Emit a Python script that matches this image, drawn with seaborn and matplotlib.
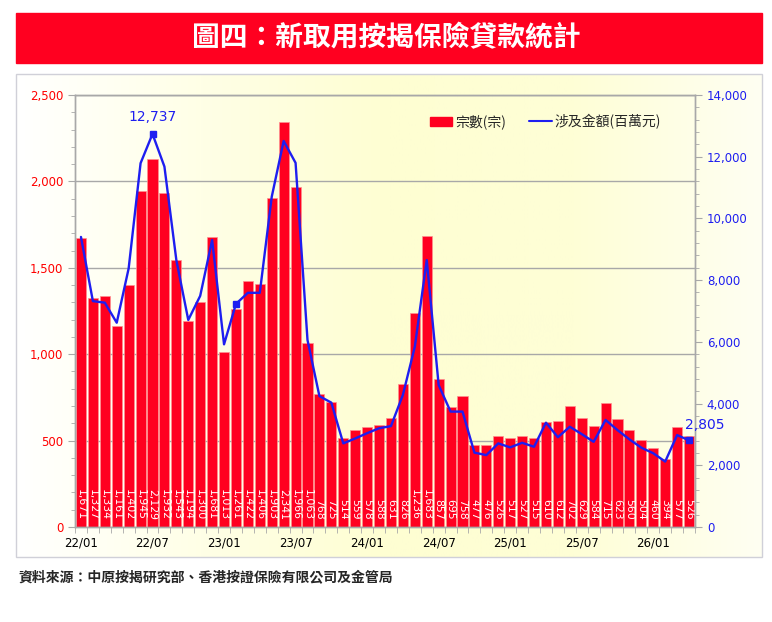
import numpy as np
import pandas as pd
import matplotlib
matplotlib.use('Agg')
import matplotlib.pyplot as plt
import seaborn as sns
from matplotlib.patches import Rectangle, Patch
from matplotlib.lines import Line2D
from matplotlib.colors import LinearSegmentedColormap
from matplotlib.ticker import MultipleLocator, FuncFormatter, FixedLocator

sns.set_style('white')
plt.rcParams['font.family'] = ['DejaVu Sans', 'Noto Sans CJK TC']
CJK = ['Noto Sans CJK TC', 'DejaVu Sans']

# data: monthly new mortgage insurance loans, 22/01 - 26/04
months = pd.date_range('2022-01-01', periods=52, freq='MS').strftime('%y/%m').tolist()
counts = [1671, 1327, 1334, 1161, 1402, 1945, 2129, 1932, 1543, 1194, 1300, 1681,
          1013, 1261, 1422, 1406, 1903, 2341, 1966, 1063, 768, 725, 514, 559,
          578, 588, 631, 826, 1236, 1683, 857, 695, 758, 477, 476, 526,
          517, 527, 515, 610, 612, 702, 629, 584, 715, 623, 560, 504,
          460, 394, 577, 526]
amounts = [9400, 7320, 7270, 6620, 8380, 11790, 12737, 11680, 8650, 6710, 7490, 9300,
           5920, 7230, 7590, 7590, 10700, 12510, 11800, 6060, 4240, 4030, 2710, 2870,
           3040, 3200, 3270, 4280, 5840, 8650, 4600, 3740, 3740, 2410, 2330, 2710,
           2580, 2730, 2600, 3380, 2910, 3250, 3010, 2760, 3470, 3140, 2840, 2570,
           2390, 2120, 2980, 2805]
marked = [6, 13, 51]
tick_months = months[::6]

bar_color = '#FF0020'
line_color = '#1E1EF0'
grid_gray = '#A8A8A8'

df = pd.DataFrame({'month': months, 'idx': np.arange(len(months)),
                   'count': counts, 'amount': amounts})

fig = plt.figure(figsize=(7.72, 6.22), dpi=100)
W, H = 772, 622

# title banner
fig.patches.append(Rectangle((16 / W, 1 - 63 / H), 746 / W, 50 / H,
                             transform=fig.transFigure, color='#FF0020', zorder=0))
fig.text(0.5, 1 - 38 / H, '圖四：新取用按揭保險貸款統計', color='white',
         fontsize=20, family=CJK, ha='center', va='center', fontweight='bold')

# chart box with soft gradient
bg = fig.add_axes([16 / W, 1 - 557 / H, 746 / W, (557 - 74) / H])
cmap = LinearSegmentedColormap.from_list('bg', ['#FFFFFF', '#FFFFE6', '#FEFED2', '#FEFED6', '#FFFFF2'])
bg.imshow(np.linspace(0, 1, 256)[None, :], aspect='auto', cmap=cmap, extent=[0, 1, 0, 1])
bg.set_axis_off()
fig.patches.append(Rectangle((16 / W, 1 - 557 / H), 746 / W, (557 - 74) / H,
                             transform=fig.transFigure, fill=False, edgecolor='#D0D0D8', lw=1))

ax = fig.add_axes([75 / W, 1 - 527 / H, 620 / W, 432 / H])
ax.set_facecolor('none')
sns.barplot(data=df, x='month', y='count', color=bar_color, saturation=1,
            width=0.84, edgecolor='#FF9090', linewidth=0.5, ax=ax)
ax.set_axisbelow(True)
ax.yaxis.grid(True, color=grid_gray, lw=1)
ax.set_ylim(0, 2500)
ax.set_xlim(-0.5, len(months) - 0.5)
ax.yaxis.set_major_locator(MultipleLocator(500))
ax.yaxis.set_minor_locator(MultipleLocator(100))
ax.yaxis.set_major_formatter(FuncFormatter(lambda v, p: f'{v:,.0f}'))
ax.xaxis.set_major_locator(FixedLocator(np.arange(0, len(months), 6)))
ax.set_xticklabels(tick_months)
ax.xaxis.set_minor_locator(FixedLocator(np.arange(-0.5, len(months), 1)))
ax.tick_params(axis='y', which='both', left=True, labelcolor='#FF0000', color=grid_gray,
               labelsize=8.5, direction='out')
ax.tick_params(axis='y', which='major', length=5)
ax.tick_params(axis='y', which='minor', length=3)
ax.tick_params(axis='x', which='major', length=0, labelsize=8.5, labelcolor='black', pad=7)
ax.tick_params(axis='x', which='minor', bottom=True, length=4, color=grid_gray)
ax.set_xlabel('')
ax.set_ylabel('')

for i, c in enumerate(counts):
    ax.text(i, 40, f'{c:,}', rotation=-90, color='white', fontsize=7.8,
            ha='center', va='bottom', zorder=4)

ax2 = ax.twinx()
sns.lineplot(data=df, x='idx', y='amount', color=line_color, lw=1.7, ax=ax2)
ax2.plot(df['idx'].iloc[marked], df['amount'].iloc[marked], 's', color=line_color, ms=4.5)
ax2.set_ylim(0, 14000)
ax2.set_xlim(-0.5, len(months) - 0.5)
ax2.yaxis.set_major_locator(MultipleLocator(2000))
ax2.yaxis.set_minor_locator(MultipleLocator(400))
ax2.yaxis.set_major_formatter(FuncFormatter(lambda v, p: f'{v:,.0f}'))
ax2.tick_params(axis='y', which='both', right=True, labelcolor='#1E1EF0', color=grid_gray,
                labelsize=8.5, direction='out')
ax2.tick_params(axis='y', which='major', length=5)
ax2.tick_params(axis='y', which='minor', length=3)
ax2.set_ylabel('')
ax2.set_xlabel('')

for a in (ax, ax2):
    for s in a.spines.values():
        s.set_color(grid_gray)
        s.set_linewidth(1)

ax2.annotate(f'{amounts[6]:,}', (6, amounts[6]), xytext=(0, 7), textcoords='offset points',
             ha='center', va='bottom', color=line_color, fontsize=10)
ax2.annotate(f'{amounts[51]:,}', (51, amounts[51]), xytext=(-3, 11), textcoords='offset points',
             ha='left', va='center', color=line_color, fontsize=10)

handles = [Patch(facecolor=bar_color, edgecolor=bar_color),
           Line2D([], [], color=line_color, lw=1.5)]
ax2.legend(handles, ['宗數(宗)', '涉及金額(百萬元)'], loc='upper right',
           bbox_to_anchor=(0.965, 0.985), ncol=2, frameon=False,
           prop={'family': CJK, 'size': 10}, handlelength=1.6, handleheight=0.6,
           handletextpad=0.2, columnspacing=1.7)

fig.text(18 / W, 1 - 578 / H, '資料來源：中原按揭研究部、香港按證保險有限公司及金管局',
         fontsize=10, family=CJK, fontweight='bold', ha='left', va='center')

fig.savefig('out.png', dpi=100)
